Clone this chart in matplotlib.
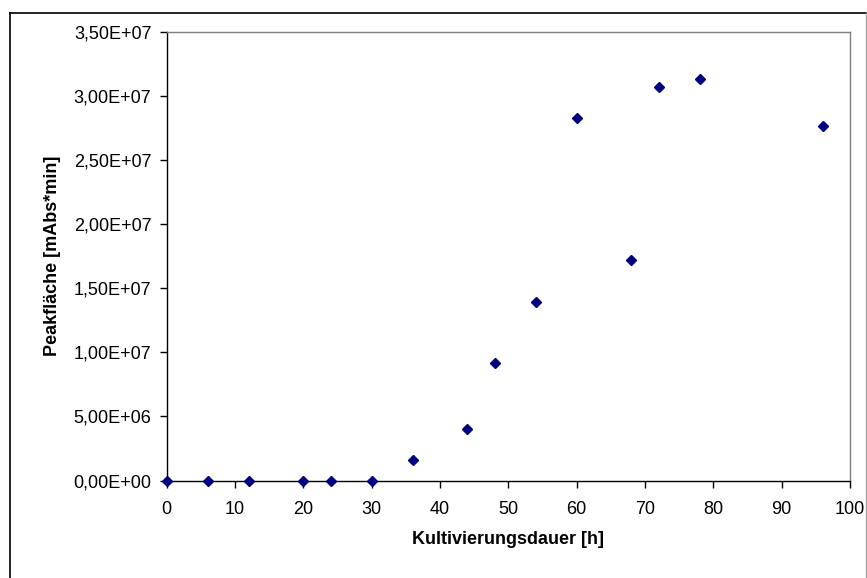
import matplotlib
matplotlib.use("Agg")
import matplotlib.pyplot as plt
from matplotlib.ticker import FuncFormatter, MultipleLocator
from matplotlib.lines import Line2D

plt.rcParams['font.family'] = ['Liberation Sans', 'DejaVu Sans']

# Kultivierungsdauer [h] und Peakfläche [mAbs*min]
hours = [0, 6, 12, 20, 24, 30, 36, 44, 48, 54, 60, 68, 72, 78, 96]
peak_area = [0, 0, 0, 0, 0, 0, 1.6e6, 4.02e6, 9.18e6, 1.392e7,
             2.83e7, 1.72e7, 3.07e7, 3.137e7, 2.77e7]

x_ticks = list(range(0, 101, 10))

W, H = 867, 578
fig = plt.figure(figsize=(W / 100, H / 100), dpi=100)
ax = fig.add_axes([166.7 / W, 1 - 480.5 / H, (850 - 166.7) / W, 448.5 / H])

ax.plot(hours, peak_area, linestyle='none', marker='D', markersize=4.8,
        color='#000080', markeredgecolor='#000080', clip_on=False, zorder=5)

ax.set_xlim(0, 100)
ax.set_ylim(0, 3.5e7)
ax.set_xticks(x_ticks)
ax.yaxis.set_major_locator(MultipleLocator(5e6))
ax.yaxis.set_major_formatter(
    FuncFormatter(lambda v, _: f"{v:.2E}".replace('.', ',')))

for side in ('top', 'right'):
    ax.spines[side].set_color('#808080')
    ax.spines[side].set_linewidth(1.0)
for side in ('left', 'bottom'):
    ax.spines[side].set_color('black')
    ax.spines[side].set_linewidth(1.0)

ax.tick_params(axis='both', direction='out', length=5, width=1.0,
               color='black', labelsize=13)
ax.tick_params(axis='y', pad=6)
ax.tick_params(axis='x', pad=10)

ax.set_xlabel('Kultivierungsdauer [h]', fontsize=13, fontweight='bold',
              va='center')
ax.xaxis.set_label_coords(0.5, (480.5 - 540) / 448.5)
ax.set_ylabel('Peakfläche [mAbs*min]', fontsize=13, fontweight='bold',
              va='center')
ax.yaxis.set_label_coords((53 - 166.7) / 683.3, 0.5)

# Chart border
x0, x1 = 10 / W, 866 / W
y_top = 1 - 13 / H
fig.add_artist(Line2D([x0, x0], [-0.01, y_top], color='black', lw=1.2,
                      transform=fig.transFigure))
fig.add_artist(Line2D([x0, x1], [y_top, y_top], color='black', lw=1.2,
                      transform=fig.transFigure))
fig.add_artist(Line2D([x1, x1], [-0.01, y_top], color='#a0a0a0', lw=1.0,
                      transform=fig.transFigure))

fig.savefig('out.png', dpi=100, facecolor='white')
